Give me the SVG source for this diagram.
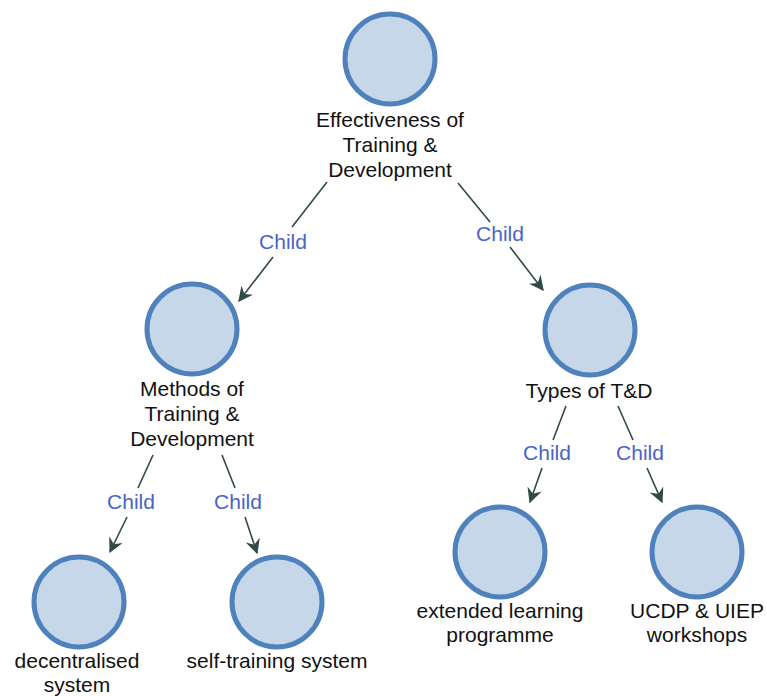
<svg xmlns="http://www.w3.org/2000/svg" width="767" height="696" viewBox="0 0 767 696">
<style>
.node circle{fill:#c6d7ea;stroke:#4f81bd;stroke-width:5}
.node text{font-family:"Liberation Sans",Arial,sans-serif;font-size:21px;fill:#111;text-anchor:middle}
.edge line{stroke:#2f4a47;stroke-width:1.6;fill:none}
.lbl{font-family:"Liberation Sans",Arial,sans-serif;font-size:21px;fill:#4a63c8;text-anchor:middle}
</style>
<defs>
<marker id="arr" viewBox="0 0 12 12" refX="11" refY="6" markerWidth="15" markerHeight="15" markerUnits="userSpaceOnUse" orient="auto">
<path d="M0,0 L12,6 L0,12 L4,6 z" fill="#2f4a47"/>
</marker>
</defs>
<rect width="767" height="696" fill="#fff"/>
<g id="connectors">
<g class="edge">
<line x1="327" y1="182" x2="292" y2="227"/>
<line x1="273" y1="257" x2="239" y2="301" marker-end="url(#arr)"/>
<text class="lbl" x="283" y="249">Child</text>
</g>
<g class="edge">
<line x1="458" y1="183" x2="490" y2="222"/>
<line x1="510" y1="247" x2="543" y2="290" marker-end="url(#arr)"/>
<text class="lbl" x="500" y="241">Child</text>
</g>
<g class="edge">
<line x1="153" y1="455" x2="138" y2="488"/>
<line x1="127" y1="517" x2="110" y2="552" marker-end="url(#arr)"/>
<text class="lbl" x="131" y="509">Child</text>
</g>
<g class="edge">
<line x1="222" y1="455" x2="235" y2="488"/>
<line x1="245" y1="517" x2="257" y2="553" marker-end="url(#arr)"/>
<text class="lbl" x="238" y="509">Child</text>
</g>
<g class="edge">
<line x1="566" y1="406" x2="553" y2="440"/>
<line x1="542" y1="468" x2="530" y2="502" marker-end="url(#arr)"/>
<text class="lbl" x="547" y="460">Child</text>
</g>
<g class="edge">
<line x1="618" y1="406" x2="633" y2="440"/>
<line x1="647" y1="468" x2="662" y2="502" marker-end="url(#arr)"/>
<text class="lbl" x="640" y="460">Child</text>
</g>
</g>
<g id="root" class="node">
<circle cx="390" cy="59" r="45"/>
<text x="390" y="127">Effectiveness of</text>
<text x="390" y="152">Training &amp;</text>
<text x="390" y="177">Development</text>
</g>
<g id="methods" class="node">
<circle cx="192" cy="329" r="45"/>
<text x="192" y="396">Methods of</text>
<text x="192" y="421">Training &amp;</text>
<text x="192" y="446">Development</text>
</g>
<g id="types" class="node">
<circle cx="590" cy="330" r="45"/>
<text x="589" y="398">Types of T&amp;D</text>
</g>
<g id="decentralised" class="node">
<circle cx="79" cy="602" r="45"/>
<text x="77" y="668">decentralised</text>
<text x="77" y="692">system</text>
</g>
<g id="selftraining" class="node">
<circle cx="277" cy="602" r="45"/>
<text x="277" y="668">self-training system</text>
</g>
<g id="extended" class="node">
<circle cx="500" cy="552" r="45"/>
<text x="500" y="618">extended learning</text>
<text x="500" y="642">programme</text>
</g>
<g id="ucdp" class="node">
<circle cx="697" cy="552" r="45"/>
<text x="697" y="618">UCDP &amp; UIEP</text>
<text x="697" y="642">workshops</text>
</g>
</svg>
